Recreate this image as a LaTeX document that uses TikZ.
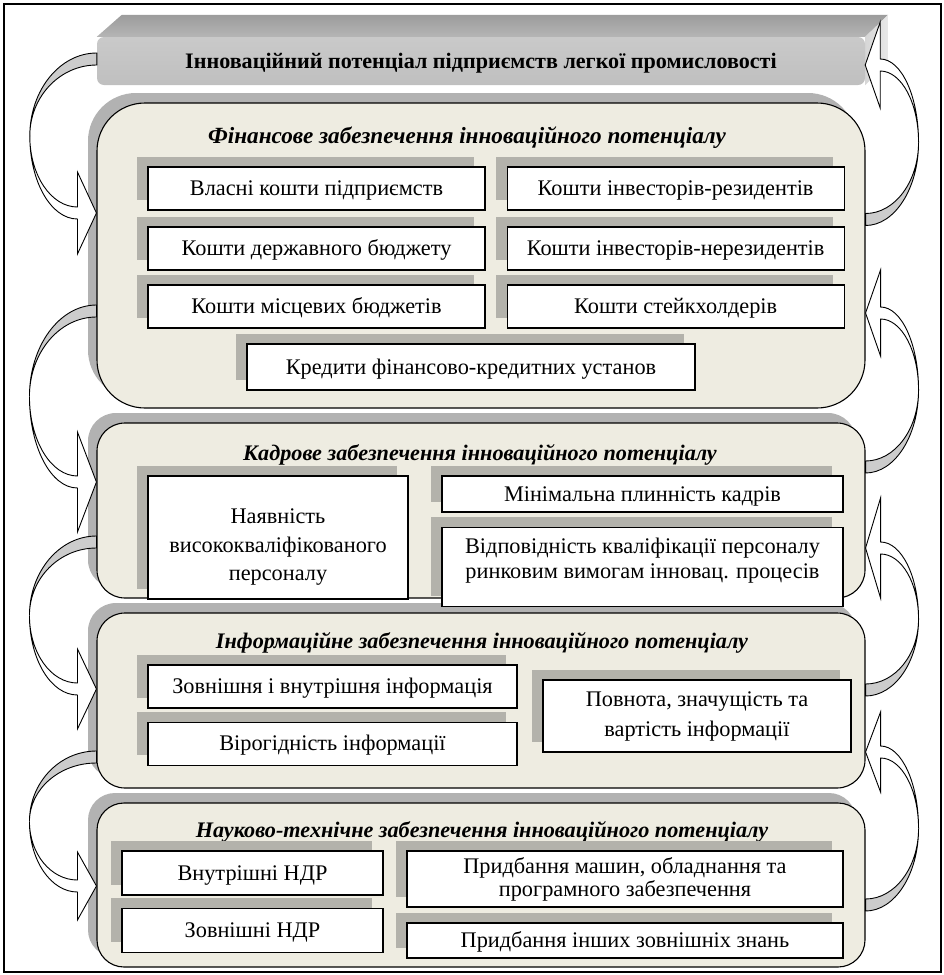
\documentclass[tikz,border=0pt]{standalone}
\usepackage{fontspec}
\setmainfont{Liberation Serif}
\usetikzlibrary{positioning, calc, shadows, backgrounds}

\definecolor{beige}{HTML}{EEECE1}
\definecolor{sectgray}{HTML}{B2B2B2}
\definecolor{itemgray}{HTML}{B3B2AB}
\definecolor{bandgray}{HTML}{CCCCCC}

\newcommand{\itemfont}{\fontsize{22.3}{25}\selectfont}
\newcommand{\stitlefont}{\fontsize{22.2}{25}\selectfont\bfseries\itshape}
\newcommand{\mtitlefont}{\fontsize{22.1}{25}\selectfont\bfseries}

\tikzset{
    sect/.style={draw=black, line width=1.1pt, fill=beige,
        general shadow={fill=sectgray, shadow xshift=-9pt, shadow yshift=10pt}},
    item/.style={draw=black, line width=1.1pt, fill=white, align=center,
        inner sep=0pt, font=\itemfont,
        general shadow={fill=itemgray, shadow xshift=-11pt, shadow yshift=10pt}},
    one/.style={text height=16pt, text depth=2pt},
    stitle/.style={font=\stitlefont, one},
    wh/.style 2 args={minimum width=#1pt, minimum height=#2pt},
    bandback/.style={fill=bandgray, draw=black, line width=0.9pt},
    bandfront/.style={fill=white, draw=black, line width=0.9pt}}

% curved block arrow on the left side: tail, head tip, half height of head
\newcommand{\lcurve}[3]{%
  \path[bandback] let \p1=(#1), \p2=(#2), \n1={(\y1+\y2)/2},
      \n2={\y1+6pt-(\n1)}, \n3={\y1-6pt-(\n1)} in
    (\x1,\y1+6pt) arc[start angle=90, end angle=180, x radius=67pt, y radius=\n2]
    arc[start angle=180, end angle=90, x radius=67pt, y radius=\n3] -- cycle;
  \path[bandfront] let \p1=(#1), \p2=(#2), \n1={(\y1+\y2)/2},
      \n4={\x2-19pt-(\x1)+67pt}, \n5={\n1-(\y2)+6pt}, \n6={\n1-(\y2)-6pt} in
    (\x1-67pt,\n1) arc[start angle=180, end angle=270, x radius=\n4, y radius=\n5]
    -- (\x2-19pt,\y2-#3pt) -- (\x2,\y2) -- (\x2-19pt,\y2+#3pt) -- (\x2-19pt,\y2+6pt)
    arc[start angle=270, end angle=180, x radius=\n4, y radius=\n6] -- cycle;
}
% curved block arrow on the right side
\newcommand{\rcurve}[3]{%
  \path[bandback] let \p1=(#1), \p2=(#2), \n1={(\y1+\y2)/2},
      \n2={\n1-(\y1)+6pt}, \n3={\n1-(\y1)-6pt} in
    (\x1,\y1-6pt) arc[start angle=270, end angle=360, x radius=53pt, y radius=\n2]
    arc[start angle=360, end angle=270, x radius=53pt, y radius=\n3] -- cycle;
  \path[bandfront] let \p1=(#1), \p2=(#2), \n1={(\y1+\y2)/2},
      \n4={\x1+53pt-(\x2)-15pt}, \n5={\y2+6pt-(\n1)}, \n6={\y2-6pt-(\n1)} in
    (\x1+53pt,\n1) arc[start angle=0, end angle=90, x radius=\n4, y radius=\n5]
    -- (\x2+15pt,\y2+#3pt) -- (\x2,\y2) -- (\x2+15pt,\y2-#3pt) -- (\x2+15pt,\y2-6pt)
    arc[start angle=90, end angle=0, x radius=\n4, y radius=\n6] -- cycle;
}

\begin{document}
\begin{tikzpicture}[x=1pt, y=-1pt]
    \useasboundingbox (0,0) rectangle (944,975);

    % Title bar
    \node[wh={768}{48}, rounded corners=7pt, top color=gray!42, bottom color=gray!50,
        font=\mtitlefont, one] (title) at (481,61)
        {Інноваційний потенціал підприємств легкої промисловості};
    \begin{scope}[on background layer]
        \shade[top color=gray!78, bottom color=gray!58]
            (title.north west) -- ++(25,-22) -- ($(title.north east)+(23,-22)$)
            -- (title.north east) -- cycle;
        \shade[left color=gray!32, right color=gray!18]
            (title.north east) -- ++(23,-22) -- ++(0,47) -- (title.south east) -- cycle;
    \end{scope}

    % Sections
    \node[sect, wh={768}{305}, rounded corners=48pt] (fin) at (481,255.5) {};
    \node[sect, wh={768}{175}, rounded corners=28pt] (kadr) at (481,510.5) {};
    \node[sect, wh={768}{175}, rounded corners=28pt] (info) at (481,700.5) {};
    \node[sect, wh={768}{164}, rounded corners=27pt] (nauk) at (481,885) {};

    % Financial support
    \node[stitle, font=\fontsize{23.2}{25}\selectfont\bfseries\itshape] (tfin) at (467,136)
        {Фінансове забезпечення інноваційного потенціалу};
    \node[item, one, wh={337}{43}] (vlasni) at (316.5,188.5) {Власні кошти підприємств};
    \node[item, one, wh={337}{43}, right=21pt of vlasni] (rezyd) {Кошти інвесторів-резидентів};
    \node[item, one, wh={337}{43}] (derzh) at (316.5,248.5) {Кошти державного бюджету};
    \node[item, one, wh={337}{43}, right=21pt of derzh] (nerez) {Кошти інвесторів-нерезидентів};
    \node[item, one, wh={337}{43}] (mists) at (316.5,306.5) {Кошти місцевих бюджетів};
    \node[item, one, wh={337}{43}, right=21pt of mists] (steik) {Кошти стейкхолдерів};
    \node[item, one, wh={448}{46}] (kredyt) at (471,367) {Кредити фінансово-кредитних установ};

    % Personnel support
    \node[stitle] (tkadr) at (480,453) {Кадрове забезпечення інноваційного потенціалу};
    \node[item, wh={260}{123}] (nayavn) at (278,537.5)
        {\rule{0pt}{34pt}Наявність\\[3.5pt] висококваліфікованого\\[3.5pt] персоналу};
    \node[item, one, wh={401}{36}] (minim) at (642.5,494) {Мінімальна плинність кадрів};
    \node[item, wh={401}{79}, below=14pt of minim] (vidpov)
        {Відповідність кваліфікації персоналу\\ ринковим вимогам інновац. процесів\rule[-17pt]{0pt}{1pt}};

    % Information support
    \node[stitle] (tinfo) at (482,641) {Інформаційне забезпечення інноваційного потенціалу};
    \node[item, one, wh={369}{43}] (zovn) at (332.5,686.5) {Зовнішня і внутрішня інформація};
    \node[item, one, wh={369}{43}, below=13pt of zovn] (virog) {Вірогідність інформації};
    \node[item, wh={308}{72}] (povn) at (697,716)
        {Повнота, значущість та\\[5pt] вартість інформації};

    % Scientific and technical support
    \node[stitle] (tnauk) at (482,830) {Науково-технічне забезпечення інноваційного потенціалу};
    \node[item, one, wh={261}{44}] (vnutr) at (252.5,873) {Внутрішні НДР};
    \node[item, one, wh={261}{44}, below=12pt of vnutr] (zndr) {Зовнішні НДР};
    \node[item, wh={436}{56}] (prydb) at (625,879)
        {Придбання машин, обладнання та\\[-2pt] програмного забезпечення};
    \node[item, one, wh={436}{35}] (inshi) at (625,940.5) {Придбання інших зовнішніх знань};

    % Curved arrows, left side (downwards)
    \coordinate (l1s) at (title.west |- 0,59);
    \coordinate (l1e) at (fin.west |- 0,213);
    \coordinate (l2s) at (fin.west |- 0,311);
    \coordinate (l2e) at (kadr.west |- 0,482);
    \coordinate (l3s) at (kadr.west |- 0,542);
    \coordinate (l3e) at (info.west |- 0,689);
    \coordinate (l4s) at (info.west |- 0,757);
    \coordinate (l4e) at (nauk.west |- 0,886);
    \lcurve{l1s}{l1e}{41}
    \lcurve{l2s}{l2e}{50}
    \lcurve{l3s}{l3e}{40}
    \lcurve{l4s}{l4e}{34}

    % Curved arrows, right side (upwards)
    \coordinate (r1s) at (fin.east |- 0,219.5);
    \coordinate (r1e) at (title.east |- 0,65);
    \coordinate (r2s) at (kadr.east |- 0,467);
    \coordinate (r2e) at (fin.east |- 0,313);
    \coordinate (r3s) at (info.east |- 0,690);
    \coordinate (r3e) at (kadr.east |- 0,548);
    \coordinate (r4s) at (nauk.east |- 0,905);
    \coordinate (r4e) at (info.east |- 0,752);
    \rcurve{r1s}{r1e}{43}
    \rcurve{r2s}{r2e}{43}
    \rcurve{r3s}{r3e}{50}
    \rcurve{r4s}{r4e}{40}

    % Outer frame
    \draw[line width=1.5pt] (4,4) rectangle (941,972);
\end{tikzpicture}
\end{document}
